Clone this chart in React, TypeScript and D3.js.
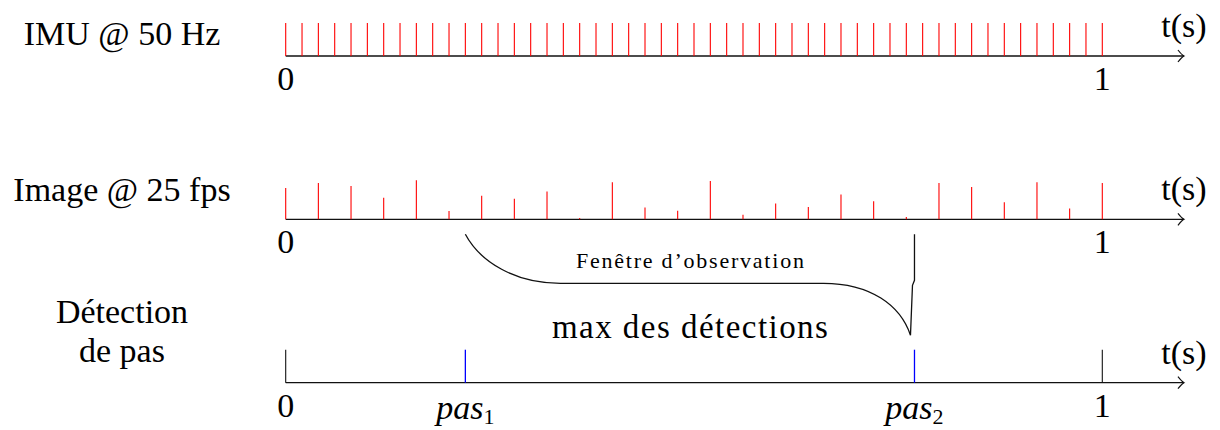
import { useRef, useEffect } from "react";
import * as d3 from "d3";

const rowLabels = [["IMU @ 50 Hz"], ["Image @ 25 fps"], ["Détection", "de pas"]];
const axisLabel = "t(s)";
const tickLabels = ["0", "1"];

// IMU sampling instants (50 Hz over one second), constant amplitude
const imuTimes = d3.range(51).map((i) => i / 50);
// image frames (25 fps), amplitude (1 = IMU tick height)
const imageAmp = [
  0.95, 1.1, 1.01, 0.65, 1.18, 0.25, 0.71, 0.62, 0.84, 0.04, 1.12, 0.36, 0.26,
  1.16, 0.14, 0.48, 0.37, 0.75, 0.55, 0.07, 1.1, 0.98, 0.52, 1.12, 0.33, 1.1,
];
const stepTimes = [0.22, 0.77];
const stepLabels = ["1", "2"];
const windowText = "Fenêtre d’observation";
const maxText = "max des détections";

const FONT = "Liberation Serif";

function App() {
  const ref = useRef<SVGSVGElement | null>(null);
  const width = 1220;
  const height = 430;

  useEffect(() => {
    if (!ref.current) return;
    const svg = d3.select(ref.current).html("");
    svg.attr("font-family", FONT);

    const x = d3.scaleLinear().domain([0, 1]).range([285.7, 1102.3]);
    const amp = d3.scaleLinear().domain([0, 1]).range([0, 33]);
    const rowY = [56, 219.3, 382.7];

    rowY.forEach((y0, r) => {
      const g = svg.append("g");
      // axis line + open arrow head
      g.append("line")
        .attr("x1", x(0))
        .attr("x2", x(1.1))
        .attr("y1", y0)
        .attr("y2", y0)
        .attr("stroke", "#111")
        .attr("stroke-width", 1.3);
      const tip = x(1.1);
      g.append("path")
        .attr("d", `M${tip - 6},${y0 - 6} Q${tip - 2},${y0 - 1} ${tip},${y0} Q${tip - 2},${y0 + 1} ${tip - 6},${y0 + 6}`)
        .attr("fill", "none")
        .attr("stroke", "#111")
        .attr("stroke-width", 1.2);
      g.append("text")
        .attr("x", tip)
        .attr("y", y0 - 19)
        .attr("text-anchor", "middle")
        .attr("font-size", 34)
        .text(axisLabel);

      // tick labels 0 and 1
      tickLabels.forEach((t, i) => {
        g.append("text")
          .attr("x", x(i))
          .attr("y", y0 + 34)
          .attr("text-anchor", "middle")
          .attr("font-size", 34)
          .text(t);
      });

      // row label
      rowLabels[r].forEach((s, i) => {
        g.append("text")
          .attr("x", 122)
          .attr("y", r === 2 ? 323 + i * 39 : y0 - 11 - (r === 1 ? 7 : 0))
          .attr("text-anchor", "middle")
          .attr("font-size", 34)
          .text(s);
      });
    });

    // IMU samples
    svg.append("g")
      .selectAll("line")
      .data(imuTimes)
      .enter()
      .append("line")
      .attr("x1", (d) => x(d))
      .attr("x2", (d) => x(d))
      .attr("y1", rowY[0])
      .attr("y2", rowY[0] - amp(1))
      .attr("stroke", "#ff0000")
      .attr("stroke-width", 1.1);

    // image frames
    svg.append("g")
      .selectAll("line")
      .data(imageAmp)
      .enter()
      .append("line")
      .attr("x1", (d, i) => x(i / 25))
      .attr("x2", (d, i) => x(i / 25))
      .attr("y1", rowY[1])
      .attr("y2", (d) => rowY[1] - amp(d))
      .attr("stroke", "#ff0000")
      .attr("stroke-width", 1.1);

    // detection row: bounds and steps
    const g3 = svg.append("g");
    [0, 1].forEach((t) => {
      g3.append("line")
        .attr("x1", x(t))
        .attr("x2", x(t))
        .attr("y1", rowY[2])
        .attr("y2", rowY[2] - amp(1))
        .attr("stroke", "#111")
        .attr("stroke-width", 1.1);
    });
    stepTimes.forEach((t, i) => {
      g3.append("line")
        .attr("x1", x(t))
        .attr("x2", x(t))
        .attr("y1", rowY[2])
        .attr("y2", rowY[2] - amp(1))
        .attr("stroke", "#0000ff")
        .attr("stroke-width", 1.3);
      const txt = g3
        .append("text")
        .attr("x", x(t))
        .attr("y", rowY[2] + 36)
        .attr("text-anchor", "middle")
        .attr("font-size", 34);
      txt.append("tspan").attr("font-style", "italic").text("pas");
      txt.append("tspan")
        .attr("dy", 5)
        .attr("font-size", 22)
        .text(stepLabels[i]);
    });

    // observation window bracket
    const xs = x(stepTimes[0]);
    const xe = x(stepTimes[1]);
    const yTop = rowY[1] + 15;
    const yMid = rowY[1] + 64;
    const yBot = rowY[1] + 116;
    const p = d3.path();
    p.moveTo(xs, yTop);
    p.bezierCurveTo(xs + 15, yTop + 28, xs + 50, yMid, xs + 95, yMid);
    p.lineTo(xe - 91, yMid);
    p.bezierCurveTo(xe - 44, yMid, xe - 14, yMid + 22, xe - 4, yBot);
    p.lineTo(xe - 2, yMid + 2);
    p.lineTo(xe, yMid - 3);
    p.lineTo(xe, yTop);
    svg.append("path")
      .attr("d", p.toString())
      .attr("fill", "none")
      .attr("stroke", "#111")
      .attr("stroke-width", 1.3);

    const xc = (xs + xe) / 2;
    svg.append("text")
      .attr("x", xc)
      .attr("y", 268)
      .attr("text-anchor", "middle")
      .attr("textLength", 228)
      .attr("lengthAdjust", "spacing")
      .attr("font-size", 22)
      .text(windowText);
    svg.append("text")
      .attr("x", xc)
      .attr("y", 338)
      .attr("text-anchor", "middle")
      .attr("textLength", 276)
      .attr("lengthAdjust", "spacing")
      .attr("font-size", 33)
      .text(maxText);
  }, []);

  return (
    <svg
      ref={ref}
      width={width}
      height={height}
      style={{ position: "absolute", left: 0, top: 0, background: "#fff" }}
    ></svg>
  );
}
export default App;
